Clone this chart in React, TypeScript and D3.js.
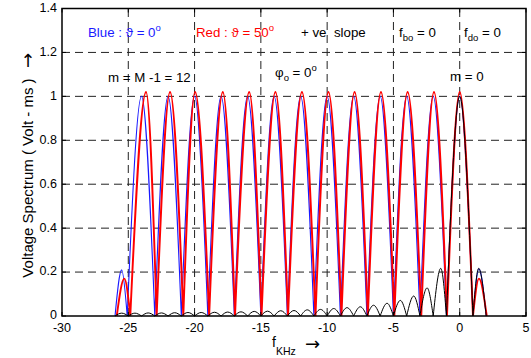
import React from 'react';
import * as d3 from 'd3';

const W = 531;
const H = 358;

const xTicks = [-30, -25, -20, -15, -10, -5, 0, 5];
const yTicks = [0, 0.2, 0.4, 0.6, 0.8, 1, 1.2, 1.4];
const yTickLabels = ['0', '0.2', '0.4', '0.6', '0.8', '1', '1.2', '1.4'];
const xGrid = [-25, -20, -15, -10, -5, 0];
const yGrid = [0.2, 0.4, 0.6, 0.8, 1, 1.2];

// Blue : theta = 0 deg  (nulls between lobes, and each lobe's peak)
const blueNulls = [-26.0, -25.08, -23, -21, -19, -17, -15, -13, -11, -9, -7, -5, -3, -1, 1, 2];
const bluePeakF = [-25.5, -24, -22, -20, -18, -16, -14, -12, -10, -8, -6, -4, -2, 0, 1.45];
const bluePeakV = [0.21, 1, 1, 1, 1, 1, 1, 1, 1, 1, 1, 1, 1, 1, 0.215];

// Red : theta = 50 deg
const redNulls = [-25.87, -24.85, -22.86, -20.85, -18.9, -16.95, -14.95, -12.95, -10.88, -8.92, -6.93, -4.93, -2.9, -0.96, 1.0, 2.04];
const redPeakF = [-25.3, -23.66, -21.85, -19.96, -17.87, -15.88, -13.9, -11.9, -9.9, -7.93, -5.94, -3.93, -1.94, 0.0, 1.45];
const redPeakV = [0.17, 1.02, 1.02, 1.02, 1.02, 1.02, 1.02, 1.02, 1.02, 1.02, 1.02, 1.02, 1.02, 1.02, 0.17];

// Black : single pulse spectrum (m = 0)
const blackNulls = [-26, -25, -24, -23, -22, -21, -20, -19, -18, -17, -16, -15, -14, -13, -12, -11, -10, -9, -8, -7, -6, -5, -4, -3, -2, -1, 1, 2];
const blackPeakF = [-25.5, -24.5, -23.5, -22.5, -21.5, -20.5, -19.5, -18.5, -17.5, -16.5, -15.5, -14.5, -13.5, -12.5, -11.5, -10.5, -9.5, -8.5, -7.5, -6.5, -5.48, -4.48, -3.47, -2.46, -1.43, 0, 1.43];
const blackPeakV = [0.013, 0.013, 0.014, 0.014, 0.015, 0.016, 0.016, 0.017, 0.018, 0.019, 0.021, 0.022, 0.024, 0.025, 0.028, 0.03, 0.034, 0.038, 0.042, 0.049, 0.058, 0.071, 0.091, 0.128, 0.217, 1.0, 0.217];

const FONT = '"Liberation Sans", Arial, Helvetica, sans-serif';
const ARROW_FONT = '"DejaVu Sans", sans-serif';

export default function App() {
  const x = d3.scaleLinear().domain([-30, 5]).range([62, 526]);
  const y = d3.scaleLinear().domain([0, 1.4]).range([316, 8.5]);

  const line = d3
    .line<[number, number]>()
    .x((d) => x(d[0]))
    .y((d) => y(d[1]))
    .curve(d3.curveMonotoneX);

  const buildPath = (nulls: number[], pf: number[], pv: number[]) => {
    let p = '';
    for (let i = 0; i < pf.length; i++) {
      const pts: [number, number][] = [
        [nulls[i], 0],
        [pf[i], pv[i]],
        [nulls[i + 1], 0],
      ];
      p += line(pts) || '';
    }
    return p;
  };

  const bluePath = buildPath(blueNulls, bluePeakF, bluePeakV);
  const redPath = buildPath(redNulls, redPeakF, redPeakV);
  const blackPath = buildPath(blackNulls, blackPeakF, blackPeakV);

  const [x0, x1] = x.range();
  const [y0, y1] = y.range();
  const tl = 4;
  const annSize = 13.3;

  return (
    <svg
      width={W}
      height={H}
      style={{ position: 'absolute', left: 0, top: 0, background: '#fff' }}
      fontFamily={FONT}
    >
      <rect x={0} y={0} width={W} height={H} fill="#fff" />
      {/* grid */}
      <g stroke="#222" strokeWidth={1} strokeDasharray="8,5">
        {xGrid.map((v) => (
          <line key={'gx' + v} x1={x(v)} x2={x(v)} y1={y0} y2={y1} />
        ))}
        {yGrid.map((v) => (
          <line key={'gy' + v} x1={x0} x2={x1} y1={y(v)} y2={y(v)} />
        ))}
      </g>

      {/* curves */}
      <path d={bluePath} fill="none" stroke="#1a1aff" strokeWidth={1.1} strokeLinejoin="round" />
      <path d={redPath} fill="none" stroke="#ff0000" strokeWidth={1.9} strokeLinejoin="round" />
      <path d={blackPath} fill="none" stroke="#000" strokeWidth={1} strokeLinejoin="round" />

      {/* axes box */}
      <rect x={x0} y={y1} width={x1 - x0} height={y0 - y1} fill="none" stroke="#000" strokeWidth={1.5} />
      <g stroke="#000" strokeWidth={1}>
        {xTicks.map((v) => (
          <g key={'tx' + v}>
            <line x1={x(v)} x2={x(v)} y1={y0} y2={y0 - tl} />
            <line x1={x(v)} x2={x(v)} y1={y1} y2={y1 + tl} />
          </g>
        ))}
        {yTicks.map((v) => (
          <g key={'ty' + v}>
            <line x1={x0} x2={x0 + tl} y1={y(v)} y2={y(v)} />
            <line x1={x1} x2={x1 - tl} y1={y(v)} y2={y(v)} />
          </g>
        ))}
      </g>

      {/* tick labels */}
      <g fontSize={12.5} fill="#000">
        {xTicks.map((v) => (
          <text key={'lx' + v} x={x(v)} y={332} textAnchor="middle">
            {v}
          </text>
        ))}
        {yTicks.map((v, i) => (
          <text key={'ly' + v} x={57} y={y(v) - 1} dy="0.35em" textAnchor="end">
            {yTickLabels[i]}
          </text>
        ))}
      </g>

      {/* axis labels */}
      <text x={272} y={347} fontSize={14} fill="#000">
        f
        <tspan fontSize={10.5} dy={8}>KHz</tspan>
      </text>
      <text x={305} y={350} fontSize={18} fontFamily={ARROW_FONT} fill="#000">
        →
      </text>
      <text
        transform="translate(33,178) rotate(-90)"
        textAnchor="middle"
        fontSize={15}
        fill="#000"
      >
        Voltage Spectrum ( Volt - ms )
      </text>
      <text x={28} y={67} textAnchor="middle" fontSize={18} fontFamily={ARROW_FONT} fill="#000">
        ↑
      </text>

      {/* annotations */}
      <g fontSize={annSize}>
        <text x={88} y={37} fill="#1a1aff">
          Blue : ϑ = 0<tspan fontSize={9.5} dy={-6}>o</tspan>
        </text>
        <text x={196} y={37} fill="#ff0000">
          Red : ϑ = 50<tspan fontSize={9.5} dy={-6}>o</tspan>
        </text>
        <text x={301} y={37} fill="#000" xmlSpace="preserve">
          + ve  slope
        </text>
        <text x={399} y={37} fill="#000">
          f<tspan fontSize={9.5} dy={4}>bo</tspan>
          <tspan dy={-4}> = 0</tspan>
        </text>
        <text x={464} y={37} fill="#000">
          f<tspan fontSize={9.5} dy={4}>do</tspan>
          <tspan dy={-4}> = 0</tspan>
        </text>
        <text x={108} y={82} fill="#000">
          m = M -1 = 12
        </text>
        <text x={275} y={77} fill="#000">
          φ<tspan fontSize={9.5} dy={4}>o</tspan>
          <tspan dy={-4}> = 0</tspan>
          <tspan fontSize={9.5} dy={-6}>o</tspan>
        </text>
        <text x={450} y={81} fill="#000">
          m = 0
        </text>
      </g>
    </svg>
  );
}
